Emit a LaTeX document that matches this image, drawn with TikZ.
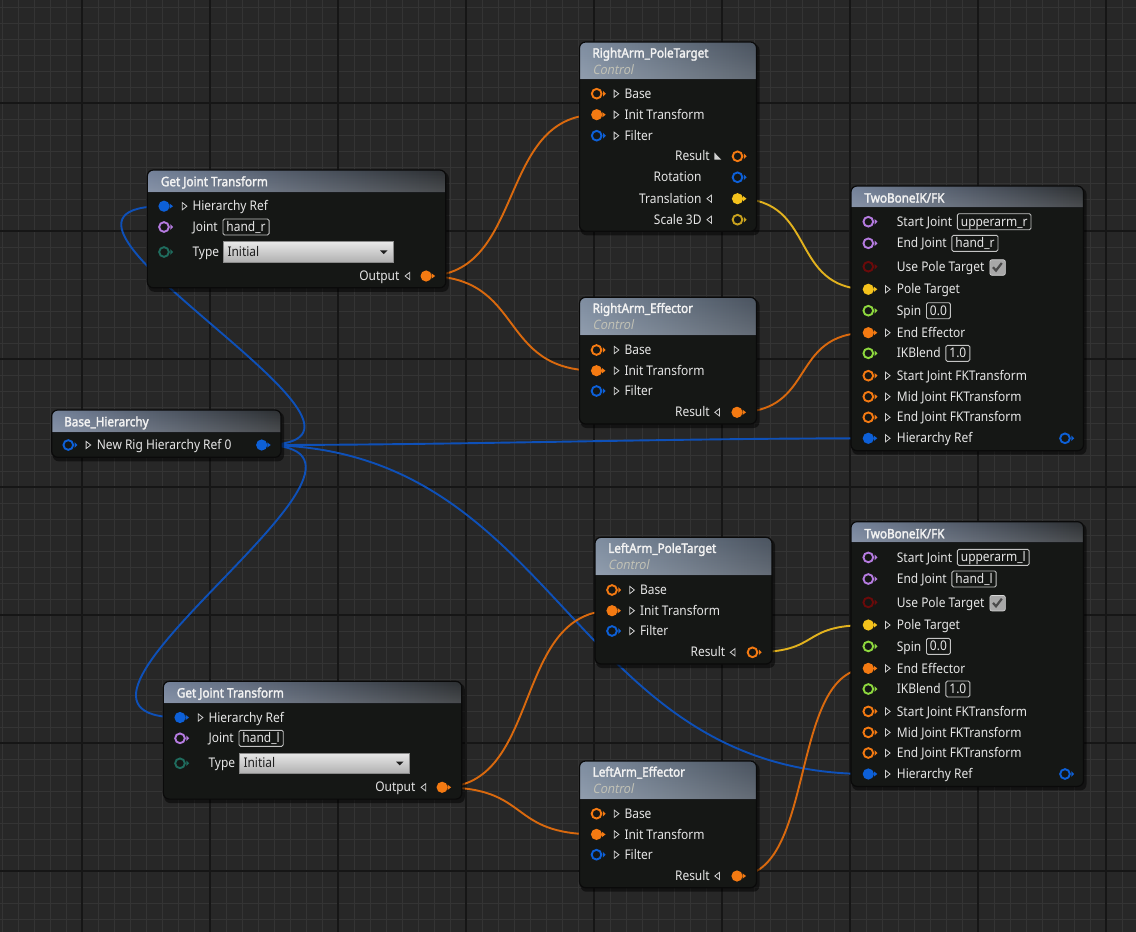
\documentclass[tikz,border=0pt]{standalone}
\usepackage{fontspec}
\setmainfont{Noto Sans}[FakeStretch=0.9]
\newfontfamily\uebffam{Noto Sans}[FakeStretch=0.9, FakeBold=2.2]
\newfontfamily\ueitfam{Noto Sans}[FakeStretch=0.9, FakeSlant=0.2]
\usetikzlibrary{calc,fit,fadings}
\pgfdeclarelayer{bgl}
\pgfdeclarelayer{wirel}
\pgfsetlayers{bgl,wirel,main}

\definecolor{bgc}{HTML}{272727}
\definecolor{gridmin}{HTML}{343434}
\definecolor{gridmaj}{HTML}{161616}
\definecolor{body}{HTML}{151715}
\definecolor{framec}{HTML}{0A0A0A}
\definecolor{sepc}{HTML}{1A1C1E}
\definecolor{fnL}{HTML}{74829A}
\definecolor{fnR}{HTML}{2C2F32}
\definecolor{ctL}{HTML}{7F8EA1}
\definecolor{ctR}{HTML}{4A535F}
\definecolor{txt}{HTML}{E6E6E6}
\definecolor{ttltext}{HTML}{F2F2F2}
\definecolor{ctltext}{HTML}{C2C2B6}
\definecolor{expc}{HTML}{D0D0D0}
\definecolor{valc}{HTML}{C4C4C4}
\definecolor{ddtop}{HTML}{E8E8E8}
\definecolor{ddbot}{HTML}{B0B0B0}
\definecolor{ddtxt}{HTML}{1E1E1E}
\definecolor{dddraw}{HTML}{8A8A8A}
\definecolor{chkc}{HTML}{A8A8A8}
\definecolor{chkbd}{HTML}{D8D8D8}
\definecolor{chkmark}{HTML}{4A4A4A}
\definecolor{pOr}{HTML}{F47A12}
\definecolor{pBl}{HTML}{0D60D8}
\definecolor{pPu}{HTML}{B57BE0}
\definecolor{pTe}{HTML}{1F6C5E}
\definecolor{pRe}{HTML}{6A0A0A}
\definecolor{pYe}{HTML}{F4C21C}
\definecolor{pYd}{HTML}{C8A21E}
\definecolor{pGr}{HTML}{8ED83E}
\definecolor{wOr}{HTML}{D9690E}
\definecolor{wBl}{HTML}{0E50B8}
\definecolor{wYe}{HTML}{E2B21E}

\newcommand\uelbl{\fontsize{13.3}{15}\selectfont}
\newcommand\uettl{\uebffam\fontsize{13}{15}\selectfont}
\newcommand\uectl{\ueitfam\fontsize{13}{15}\selectfont}

\tikzset{
  lbl/.style={font=\uelbl, text=txt, inner sep=0, anchor=base west, yshift=-4.6pt},
  rlbl/.style={lbl, anchor=base east},
  ttl/.style={font=\uettl, text=ttltext, inner sep=0, anchor=base west, yshift=-4.6pt},
  ctl/.style={font=\uectl, text=ctltext, inner sep=0, anchor=base west, yshift=-4.6pt},
  valbox/.style={draw=valc, line width=0.9, rounded corners=1.5, inner xsep=3.5, inner ysep=0,
    minimum height=16, text height=9.5, text depth=0.5, font=\uelbl, text=txt, anchor=west},
  dropbox/.style={shade, top color=ddtop, bottom color=ddbot, draw=dddraw, line width=0.6,
    minimum height=20.5, inner sep=0, anchor=west},
  chkbox/.style={fill=chkc, draw=chkbd, line width=0.6, rounded corners=2, minimum size=15.5,
    inner sep=0, anchor=west},
  ttlfn/.style={left color=fnL, right color=fnR},
  ttlct/.style={left color=ctL, right color=ctR},
  wire/.style={line width=1.9},
  pinring/.pic={\draw[line width=1.9] (0,0) circle (4.85); \fill (6.3,-2.8) -- (9.2,0) -- (6.3,2.8) -- cycle;},
  pindot/.pic={\fill (0,0) circle (5.6); \fill (5.6,-2.6) -- (9,0) -- (5.6,2.6) -- cycle;},
  expR/.pic={\draw[expc, line width=0.8] (-2.2,-3.6) -- (2.4,0) -- (-2.2,3.6) -- cycle;},
  expL/.pic={\draw[expc, line width=0.8] (2.2,-3.6) -- (-2.4,0) -- (2.2,3.6) -- cycle;},
  expD/.pic={\fill[expc] (-3.2,-3.8) -- (-3.2,3.4) -- (3.8,3.4) -- cycle;},
}

% frame of a graph node: name, left, top, right, bottom, title bottom, title style
\newcommand\ueFrame[7]{%
  \fill[black, opacity=0.5, rounded corners=6] (#2+1,#3+2) rectangle (#4+3,#5+4);
  \coordinate (#1nw) at (#2,#3); \coordinate (#1se) at (#4,#5);
  \node[fit=(#1nw)(#1se), inner sep=0, fill=body, rounded corners=6] (#1) {};
  \begin{scope}
    \clip[rounded corners=6] (#2,#3) rectangle (#4,#5);
    \shade[#7] (#2,#3) rectangle (#4,#6);
    \fill[white, opacity=0.14, path fading=north] (#2,#3) rectangle (#4,#6);
    \draw[sepc, line width=1] (#2,#6) -- (#4,#6);
  \end{scope}
  \draw[framec, line width=1.2, rounded corners=6] (#2,#3) rectangle (#4,#5);
}

% Get Joint Transform: prefix, left, top, joint value
\newcommand\GJT[4]{%
  \ueFrame{#1}{#2}{#3}{#2+298.5}{#3+117.8}{#3+22.3}{ttlfn}
  \node[ttl] (#1t) at (#2+13.4,#3+11.6) {Get Joint Transform};
  \coordinate (#1hier) at (#2+16.7,#3+36.2); \pic[color=pBl] at (#1hier) {pindot};
  \pic at (#2+37.2,#3+36.2) {expR};
  \node[lbl] (#1hiert) at (#2+45,#3+36.2) {Hierarchy Ref};
  \coordinate (#1joint) at (#2+16.7,#3+57); \pic[color=pPu] at (#1joint) {pinring};
  \node[lbl] (#1jointt) at (#2+45,#3+57) {Joint};
  \node[valbox] (#1jointv) at ($(#1jointt.east |- #1joint)+(4.5,0)$) {#4};
  \coordinate (#1type) at (#2+16.7,#3+82); \pic[color=pTe] at (#1type) {pinring};
  \node[lbl] (#1typet) at (#2+45,#3+82) {Type};
  \node[dropbox, minimum width=169.5] (#1typev) at (#2+75.7,#3+82) {};
  \node[lbl, text=ddtxt] (#1typeval) at (#2+80,#3+82) {Initial};
  \fill[ddtxt] (#2+232.7,#3+80.3) -- (#2+240.2,#3+80.3) -- (#2+236.45,#3+84) -- cycle;
  \coordinate (#1out) at (#2+278.8,#3+106); \pic[color=pOr] at (#1out) {pindot};
  \pic at (#2+260.2,#3+106) {expL};
  \node[rlbl] (#1outt) at (#2+252.3,#3+106) {Output};
}

% Control node with Base / Init Transform / Filter / Result
\newcommand\CtrlNode[6]{%
  \ueFrame{#1}{#2}{#3}{#2+177}{#3+126.7}{#3+38}{ttlct}
  \node[ttl] (#1t) at (#2+13,#3+11) {#4};
  \node[ctl] (#1c) at (#2+13,#3+27.8) {Control};
  \coordinate (#1base) at (#2+17,#3+52.7); \pic[color=pOr] at (#1base) {pinring};
  \pic at (#2+37,#3+52.7) {expR};
  \node[lbl] (#1baset) at (#2+44.8,#3+52.7) {Base};
  \coordinate (#1init) at (#2+17,#3+73.4); \pic[color=pOr] at (#1init) {pindot};
  \pic at (#2+37,#3+73.4) {expR};
  \node[lbl] (#1initt) at (#2+44.8,#3+73.4) {Init Transform};
  \coordinate (#1filt) at (#2+17,#3+93.7); \pic[color=pBl] at (#1filt) {pinring};
  \pic at (#2+37,#3+93.7) {expR};
  \node[lbl] (#1filtt) at (#2+44.8,#3+93.7) {Filter};
  \coordinate (#1res) at (#2+157.5,#3+115); \pic[color=#6] at (#1res) {#5};
  \pic at (#2+137.7,#3+115) {expL};
  \node[rlbl] (#1rest) at (#2+130.5,#3+115) {Result};
}

% TwoBoneIK/FK: prefix, top, start joint, end joint
\newcommand\TwoBone[4]{%
  \ueFrame{#1}{851}{#2}{1083.5}{#2+264.7}{#2+21}{ttlfn}
  \node[ttl] (#1t) at (864.3,#2+12) {TwoBoneIK/FK};
  \coordinate (#1sj) at (868.3,#2+35.7); \pic[color=pPu] at (#1sj) {pinring};
  \node[lbl] (#1sjt) at (896.7,#2+35.7) {Start Joint};
  \node[valbox] (#1sjv) at ($(#1sjt.east |- #1sj)+(4.5,0)$) {#3};
  \coordinate (#1ej) at (868.3,#2+57.3); \pic[color=pPu] at (#1ej) {pinring};
  \node[lbl] (#1ejt) at (896.7,#2+57.3) {End Joint};
  \node[valbox] (#1ejv) at ($(#1ejt.east |- #1ej)+(4.5,0)$) {#4};
  \coordinate (#1up) at (868.3,#2+80.7); \pic[color=pRe] at (#1up) {pinring};
  \node[lbl] (#1upt) at (896.7,#2+80.7) {Use Pole Target};
  \node[chkbox] (#1chk) at ($(#1upt.east |- #1up)+(5,0.8)$) {};
  \draw[chkmark, line width=2.2] ($(#1chk.center)+(-4.6,-0.3)$) -- ++(3,3.4) -- ++(5.8,-7.6);
  \coordinate (#1pole) at (868.3,#2+103.3); \pic[color=pYe] at (#1pole) {pindot};
  \pic at (887.7,#2+103.3) {expR};
  \node[lbl] (#1polet) at (896.7,#2+103.3) {Pole Target};
  \coordinate (#1spin) at (868.3,#2+124.7); \pic[color=pGr] at (#1spin) {pinring};
  \node[lbl] (#1spint) at (896.7,#2+124.7) {Spin};
  \node[valbox] (#1spinv) at ($(#1spint.east |- #1spin)+(4.5,0)$) {0.0};
  \coordinate (#1end) at (868.3,#2+146.7); \pic[color=pOr] at (#1end) {pindot};
  \pic at (887.7,#2+146.7) {expR};
  \node[lbl] (#1endt) at (896.7,#2+146.7) {End Effector};
  \coordinate (#1ikb) at (868.3,#2+167.3); \pic[color=pGr] at (#1ikb) {pinring};
  \node[lbl] (#1ikbt) at (896.7,#2+167.3) {IKBlend};
  \node[valbox] (#1ikbv) at ($(#1ikbt.east |- #1ikb)+(4.5,0)$) {1.0};
  \coordinate (#1sfk) at (868.3,#2+189.7); \pic[color=pOr] at (#1sfk) {pinring};
  \pic at (887.7,#2+189.7) {expR};
  \node[lbl] (#1sfkt) at (896.7,#2+189.7) {Start Joint FKTransform};
  \coordinate (#1mfk) at (868.3,#2+210.7); \pic[color=pOr] at (#1mfk) {pinring};
  \pic at (887.7,#2+210.7) {expR};
  \node[lbl] (#1mfkt) at (896.7,#2+210.7) {Mid Joint FKTransform};
  \coordinate (#1efk) at (868.3,#2+231.3); \pic[color=pOr] at (#1efk) {pinring};
  \pic at (887.7,#2+231.3) {expR};
  \node[lbl] (#1efkt) at (896.7,#2+231.3) {End Joint FKTransform};
  \coordinate (#1hier) at (868.3,#2+252.3); \pic[color=pBl] at (#1hier) {pindot};
  \pic at (887.7,#2+252.3) {expR};
  \node[lbl] (#1hiert) at (896.7,#2+252.3) {Hierarchy Ref};
  \coordinate (#1hout) at (1065,#2+252.3); \pic[color=pBl] at (#1hout) {pinring};
}

\begin{document}
\begin{tikzpicture}[x=1pt, y=-1pt]
\useasboundingbox (0,0) rectangle (1136,932);

% background grid
\begin{pgfonlayer}{bgl}
  \fill[bgc] (0,0) rectangle (1136,932);
  \foreach \x in {2,18,...,1136} \draw[gridmin, line width=1] (\x,0) -- (\x,932);
  \foreach \y in {7,23,...,932} \draw[gridmin, line width=1] (0,\y) -- (1136,\y);
  \foreach \x in {82,210,...,1136} \draw[gridmaj, line width=1.5] (\x,0) -- (\x,932);
  \foreach \y in {103,231,...,932} \draw[gridmaj, line width=1.5] (0,\y) -- (1136,\y);
\end{pgfonlayer}

% ---------- Get Joint Transform (top) ----------
\GJT{A}{147.3}{170}{hand\_r}

% ---------- Get Joint Transform (bottom) ----------
\GJT{H}{163.3}{681.3}{hand\_l}

% ---------- RightArm_PoleTarget ----------
\ueFrame{B}{579.5}{42}{756.5}{231.3}{79.7}{ttlct}
\node[ttl] (Bt) at (592.3,53) {RightArm\_PoleTarget};
\node[ctl] (Bc) at (592.3,69.7) {Control};
\coordinate (Bbase) at (596.7,93.7); \pic[color=pOr] at (Bbase) {pinring};
\pic at (616.3,93.7) {expR};
\node[lbl] (Bbaset) at (624.3,93.7) {Base};
\coordinate (Binit) at (596.7,114.7); \pic[color=pOr] at (Binit) {pindot};
\pic at (616.3,114.7) {expR};
\node[lbl] (Binitt) at (624.3,114.7) {Init Transform};
\coordinate (Bfilt) at (596.7,135.7); \pic[color=pBl] at (Bfilt) {pinring};
\pic at (616.3,135.7) {expR};
\node[lbl] (Bfiltt) at (624.3,135.7) {Filter};
\coordinate (Bres) at (737.5,156.3); \pic[color=pOr] at (Bres) {pinring};
\pic at (717.5,156.3) {expD};
\node[rlbl] (Brest) at (710,156.3) {Result};
\coordinate (Brot) at (737.5,177.3); \pic[color=pBl] at (Brot) {pinring};
\node[rlbl] (Brott) at (701.7,177.3) {Rotation};
\coordinate (Btrans) at (737.5,198.7); \pic[color=pYe] at (Btrans) {pindot};
\pic at (709.3,198.7) {expL};
\node[rlbl] (Btranst) at (701.7,198.7) {Translation};
\coordinate (Bscale) at (737.5,219.7); \pic[color=pYd] at (Bscale) {pinring};
\pic at (709.3,219.7) {expL};
\node[rlbl] (Bscalet) at (701.7,219.7) {Scale 3D};

% ---------- other control nodes ----------
\CtrlNode{D}{579.5}{297.3}{RightArm\_Effector}{pindot}{pOr}
\CtrlNode{G}{595}{537.3}{LeftArm\_PoleTarget}{pinring}{pOr}
\CtrlNode{I}{579.5}{761}{LeftArm\_Effector}{pindot}{pOr}

% ---------- Base_Hierarchy ----------
\ueFrame{E}{51.7}{410}{281}{457.3}{432}{ttlfn}
\node[ttl] (Et) at (64,421.7) {Base\_Hierarchy};
\coordinate (Ein) at (68.3,445); \pic[color=pBl] at (Ein) {pinring};
\pic at (88.3,445) {expR};
\node[lbl] (Eint) at (96.7,445) {New Rig Hierarchy Ref 0};
\coordinate (Eout) at (261.7,445); \pic[color=pBl] at (Eout) {pindot};

% ---------- TwoBoneIK/FK nodes ----------
\TwoBone{C}{186}{upperarm\_r}{hand\_r}
\TwoBone{F}{521.7}{upperarm\_l}{hand\_l}

% ---------- wires ----------
\begin{pgfonlayer}{wirel}
  \draw[wire, wOr] (Aout) .. controls +(100,0) and +(-100,0) .. (Binit);
  \draw[wire, wOr] (Aout) .. controls +(100,0) and +(-100,0) .. (Dinit);
  \draw[wire, wYe] (Btrans) .. controls +(80,0) and +(-80,0) .. (Cpole);
  \draw[wire, wOr] (Dres) .. controls +(80,0) and +(-80,0) .. (Cend);
  \draw[wire, wBl] (Eout) .. controls +(200,0) and +(-200,0) .. (Chier);
  \draw[wire, wBl] (Eout) .. controls +(180,0) and +(-180,0) .. (Ahier);
  \draw[wire, wBl] (Eout) .. controls +(180,0) and +(-180,0) .. (Hhier);
  \draw[wire, wBl] (Eout) .. controls +(300,0) and +(-300,0) .. (Fhier);
  \draw[wire, wOr] (Hout) .. controls +(100,0) and +(-100,0) .. (Ginit);
  \draw[wire, wOr] (Hout) .. controls +(90,0) and +(-90,0) .. (Iinit);
  \draw[wire, wYe] (Gres) .. controls +(70,0) and +(-70,0) .. (Fpole);
  \draw[wire, wOr] (Ires) .. controls +(80,0) and +(-80,0) .. (Fend);
\end{pgfonlayer}
\end{tikzpicture}
\end{document}
